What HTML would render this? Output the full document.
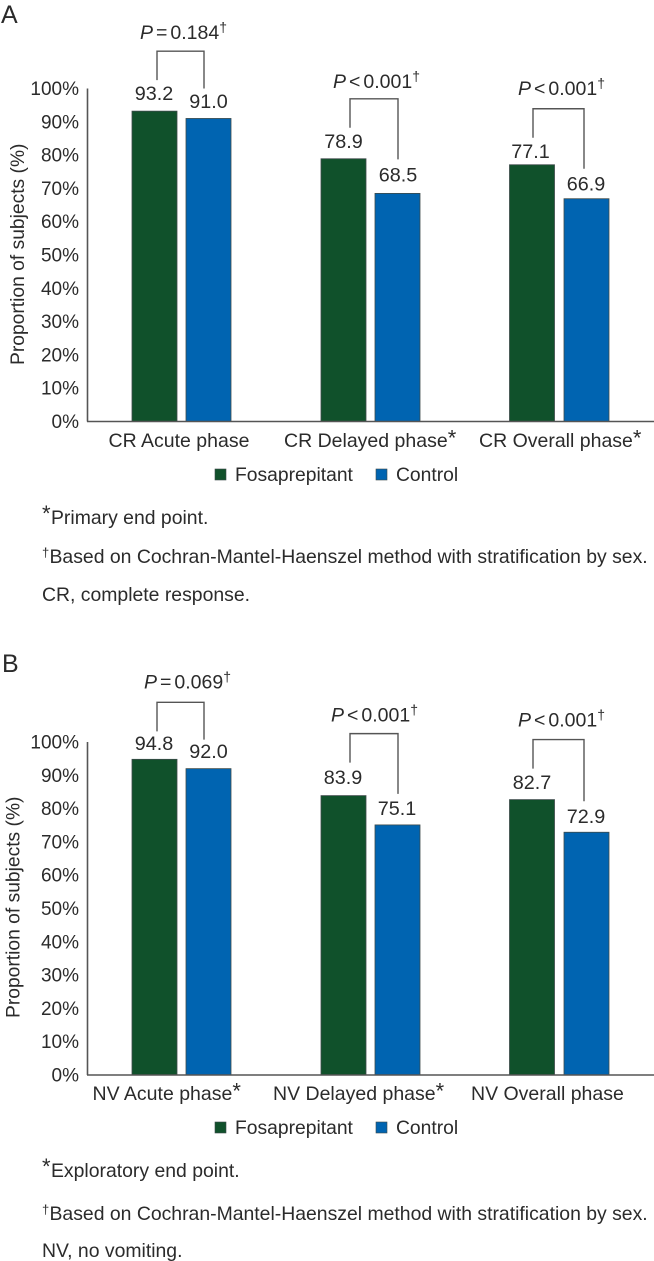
<!DOCTYPE html>
<html lang="en">
<head>
<meta charset="utf-8">
<title>Proportion of subjects by phase</title>
<style>
html,body{margin:0;padding:0;background:#fff;}
body{width:654px;height:1261px;overflow:hidden;}
svg{display:block;}
text{font-family:"Liberation Sans",Arial,sans-serif;font-size:19px;fill:#2b2b2b;}
text.note{font-size:19.4px;}
tspan.star{font-size:22px;}
tspan.dag{font-size:13px;}
</style>
</head>
<body>
<svg id="figure" xmlns="http://www.w3.org/2000/svg" width="654" height="1261" viewBox="0 0 654 1261">
  <rect x="0" y="0" width="654" height="1261" fill="#ffffff"/>
  <text x="1" y="23" style="font-size:25px">A</text>
  <text x="2" y="672" style="font-size:25px">B</text>

  <text class="note" x="42" y="524"><tspan class="star" dy="-3">*</tspan><tspan x="51" dy="3">Primary end point.</tspan></text>
  <text class="note" x="42" y="563"><tspan class="dag" dy="-6">†</tspan><tspan x="49.5" dy="6">Based on Cochran-Mantel-Haenszel method with stratification by sex.</tspan></text>
  <text class="note" x="42" y="601">CR, complete response.</text>

  <text class="note" x="42" y="1177"><tspan class="star" dy="-3">*</tspan><tspan x="51" dy="3">Exploratory end point.</tspan></text>
  <text class="note" x="42" y="1220"><tspan class="dag" dy="-6">†</tspan><tspan x="49.5" dy="6">Based on Cochran-Mantel-Haenszel method with stratification by sex.</tspan></text>
  <text class="note" x="42" y="1257">NV, no vomiting.</text>
</svg>
<script>
const tickValues = [0, 10, 20, 30, 40, 50, 60, 70, 80, 90, 100];
const seriesNames = ["Fosaprepitant", "Control"];

const categoriesA = ["CR Acute phase", "CR Delayed phase*", "CR Overall phase*"];
const fosaprepitantA = [93.2, 78.9, 77.1];
const controlA = [91.0, 68.5, 66.9];
const pLabelsA = ["= 0.184", "< 0.001", "< 0.001"];

const categoriesB = ["NV Acute phase*", "NV Delayed phase*", "NV Overall phase"];
const fosaprepitantB = [94.8, 83.9, 82.7];
const controlB = [92.0, 75.1, 72.9];
const pLabelsB = ["= 0.069", "< 0.001", "< 0.001"];

const NS = "http://www.w3.org/2000/svg";
const svg = document.getElementById("figure");
const GREEN = "#10512b", BLUE = "#0064b1", AXIS = "#555555", EDGE = "#3d4a4a";

function make(tag, attrs, parent) {
  const el = document.createElementNS(NS, tag);
  for (const k in attrs) el.setAttribute(k, attrs[k]);
  parent.appendChild(el);
  return el;
}

function drawPanel(p) {
  const g = make("g", {}, svg);
  
  
  const y = v => p.base - v * p.pxPerUnit;
  const barW = 45;

  // axes
  const yAxis = make("line", {x1: 87.5, x2: 87.5, y1: y(100), y2: p.base, stroke: AXIS, "stroke-width": 1.6}, g);
  
  

  tickValues.forEach(v => {
    const t = make("text", {x: 79, y: y(v) + 6.5, "text-anchor": "end"}, g);
    t.textContent = v + "%";
    
    
  });

  const title = make("text", {
    transform: "translate(" + p.titleX + "," + p.titleY + ") rotate(-90)", x: 0, y: 0,
    style: "font-size:19.25px"
  }, g);
  title.textContent = "Proportion of subjects (%)";
  
  

  // bars, value labels, brackets
  p.categories.forEach((cat, i) => {
    const x1 = p.greenX[i], x2 = p.blueX[i];
    const v1 = p.series1[i], v2 = p.series2[i];

    const b1 = make("rect", {x: x1, y: y(v1), width: barW, height: p.base - y(v1), fill: GREEN, stroke: EDGE, "stroke-width": 0.8}, g);
    
    
    const b2 = make("rect", {x: x2, y: y(v2), width: barW, height: p.base - y(v2), fill: BLUE, stroke: EDGE, "stroke-width": 0.8}, g);
    
    

    const l1 = make("text", {x: x1 + 22 + p.label1Dx[i], y: y(v1) - p.label1Gap[i], "text-anchor": "middle", style: "font-size:19.8px"}, g);
    l1.textContent = v1.toFixed(1);
    
    
    const l2 = make("text", {x: x2 + 22.5 + p.label2Dx[i], y: y(v2) - p.label2Gap[i], "text-anchor": "middle", style: "font-size:19.8px"}, g);
    l2.textContent = v2.toFixed(1);
    
    

    const leftX = p.bracketLeft[i], rightX = p.bracketRight[i];
    const leftBottom = y(v1) - p.legGap1[i];
    const rightBottom = y(v2) - p.legGap2[i];
    const top = leftBottom - 29;
    const br = make("path", {
      d: "M" + leftX + " " + leftBottom + "V" + top + "H" + rightX + "V" + rightBottom,
      fill: "none", stroke: AXIS, "stroke-width": 1.4
    }, g);
    
    

    const pt = make("text", {x: p.pX[i], y: top - p.pGap[i], style: "font-size:19.5px"}, g);
    
    
    const it = make("tspan", {"font-style": "italic"}, pt);
    it.textContent = "P";
    const parts = p.pLabels[i].split(" ");
    const op = make("tspan", {dx: 3}, pt);
    op.textContent = parts[0];
    const num = make("tspan", {dx: 3}, pt);
    num.textContent = parts[1];
    const dag = make("tspan", {dy: -7, style: "font-size:14px"}, pt);
    dag.textContent = "†";

    // category label (trailing * becomes a superscript)
    const starred = cat.endsWith("*");
    const ct = make("text", {x: p.catX[i], y: p.catY, style: "font-size:19.5px"}, g);
    
    
    const ctMain = make("tspan", {}, ct);
    ctMain.textContent = starred ? cat.slice(0, -1) : cat;
    if (starred) {
      const st = make("tspan", {dy: -1.5, class: "star"}, ct);
      st.textContent = "*";
    }
  });

  const xAxis = make("line", {x1: 87, x2: 654, y1: p.base, y2: p.base, stroke: AXIS, "stroke-width": 1.6}, g);
  
  

  // legend
  const lg = make("g", {}, g);
  
  
  const s1 = make("rect", {x: 215, y: p.legendY - 12, width: 11, height: 11, fill: GREEN, stroke: EDGE, "stroke-width": 0.6}, lg);
  
  
  const t1 = make("text", {x: 235, y: p.legendY, style: "font-size:19.3px"}, lg);
  t1.textContent = seriesNames[0];
  
  
  const s2 = make("rect", {x: 376, y: p.legendY - 12, width: 11, height: 11, fill: BLUE, stroke: EDGE, "stroke-width": 0.6}, lg);
  
  
  const t2 = make("text", {x: 396, y: p.legendY, style: "font-size:19.3px"}, lg);
  t2.textContent = seriesNames[1];
  
  
}

const greenX = [132, 321, 509.5];
const blueX = [186, 375, 564];

drawPanel({
  id: "panel-a", base: 421.5, pxPerUnit: 3.33,
  titleX: 24, titleY: 365, catY: 447, legendY: 481,
  categories: categoriesA, series1: fosaprepitantA, series2: controlA, pLabels: pLabelsA,
  greenX: greenX, blueX: blueX,
  label1Dx: [0, 0.5, -1], label2Dx: [0, 0.5, -0.5],
  label1Gap: [11, 11, 7], label2Gap: [10.5, 12, 8],
  bracketLeft: [157, 350, 533], bracketRight: [204, 398, 584],
  legGap1: [31, 31, 27], legGap2: [30, 34, 30],
  pX: [140, 333, 518], pGap: [12, 11, 14],
  catX: [108.5, 284, 479]
});

drawPanel({
  id: "panel-b", base: 1075, pxPerUnit: 3.33,
  titleX: 19.5, titleY: 1018, catY: 1100, legendY: 1134,
  categories: categoriesB, series1: fosaprepitantB, series2: controlB, pLabels: pLabelsB,
  greenX: greenX, blueX: blueX,
  label1Dx: [0, 0, 0.5], label2Dx: [0, -0.5, -0.5],
  label1Gap: [9.5, 11.5, 10.5], label2Gap: [10.5, 10, 9],
  bracketLeft: [157, 350, 533], bracketRight: [204, 398, 584],
  legGap1: [28, 33, 31], legGap2: [29, 31, 31],
  pX: [144, 331, 518], pGap: [14, 12, 13],
  catX: [92.5, 273, 471]
});
</script>
</body>
</html>
